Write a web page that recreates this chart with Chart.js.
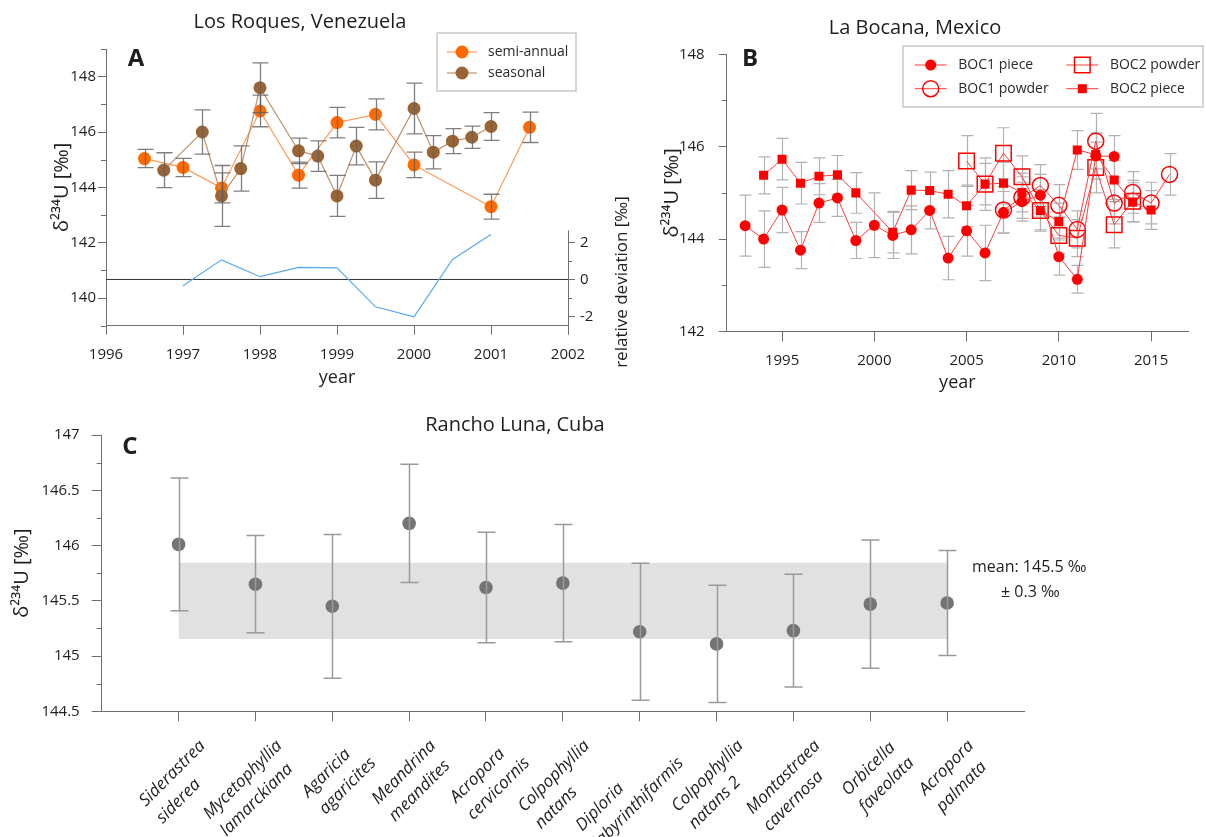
<!DOCTYPE html>
<html>
<head>
<meta charset="utf-8">
<title>Uranium isotope records</title>
<script src="https://cdn.jsdelivr.net/npm/chart.js@4.4.1/dist/chart.umd.min.js"></script>
<style>
  body { margin: 0; background: #fff; }
  .panel { position: absolute; }
</style>
</head>
<body>
<div class="panel" style="left:0;top:0"><canvas id="chartA" width="640" height="400"></canvas></div>
<div class="panel" style="left:620px;top:0"><canvas id="chartB" width="586" height="400"></canvas></div>
<div class="panel" style="left:0;top:400px"><canvas id="chartC" width="1206" height="437"></canvas></div>
<script>
// ---- Panel A: Los Roques ----
const semiYears = [1996.5, 1997, 1997.5, 1998, 1998.5, 1999, 1999.5, 2000, 2001, 2001.5];
const semiValues = [145.04, 144.72, 143.98, 146.76, 144.44, 146.34, 146.64, 144.81, 143.3, 146.17];
const semiErrors = [0.33, 0.33, 0.54, 0.57, 0.47, 0.55, 0.56, 0.46, 0.45, 0.55];

const seasYears = [1996.75, 1997.25, 1997.5, 1997.75, 1998, 1998.5, 1998.75, 1999, 1999.25, 1999.5, 2000, 2000.25, 2000.5, 2000.75, 2001];
const seasValues = [144.62, 146.0, 143.69, 144.68, 147.6, 145.32, 145.13, 143.69, 145.49, 144.26, 146.85, 145.27, 145.67, 145.81, 146.2];
const seasErrors = [0.63, 0.8, 1.1, 0.82, 0.9, 0.46, 0.55, 0.74, 0.68, 0.66, 0.92, 0.6, 0.45, 0.4, 0.5];

const devYears = [1997, 1997.5, 1998, 1998.5, 1999, 1999.5, 2000, 2000.5, 2001];
const devValues = [-0.34, 1.06, 0.15, 0.65, 0.63, -1.48, -2.02, 1.08, 2.43];

const aYearTicks = [1996, 1997, 1998, 1999, 2000, 2001, 2002];
const aLeftTicks = [140, 142, 144, 146, 148];
const aLeftMinor = [139, 141, 143, 145, 147, 149];
const aDevTicks = [-2, 0, 2];
const aDevMinor = [-1, 1];

// ---- Panel B: La Bocana ----
const bocYears = [1993, 1994, 1995, 1996, 1997, 1998, 1999, 2000, 2001, 2002, 2003, 2004,
                  2005, 2006, 2007, 2008, 2009, 2010, 2011, 2012, 2013, 2014, 2015, 2016];
const boc1Piece = [144.29, 144.0, 144.63, 143.76, 144.78, 144.89, 143.97, 144.3, 144.08, 144.2, 144.62, 143.59,
                   144.18, 143.7, 144.58, 144.81, 144.95, 143.62, 143.13, 145.8, 145.79, null, null, null];
const boc1PieceErr = [0.66, 0.61, 0.49, 0.4, 0.42, 0.4, 0.39, 0.7, 0.5, 0.52, 0.4, 0.47,
                      0.55, 0.6, 0.45, 0.42, 0.45, 0.4, 0.3, 0.5, 0.45, null, null, null];
const boc1Powder = [null, null, null, null, null, null, null, null, null, null, null, null,
                    null, null, 144.63, 144.9, 145.16, 144.73, 144.21, 146.12, 144.78, 145.01, 144.78, 145.4];
const boc1PowderErr = [null, null, null, null, null, null, null, null, null, null, null, null,
                       null, null, 0.5, 0.45, 0.45, 0.45, 0.4, 0.6, 0.45, 0.45, 0.45, 0.45];
const boc2Powder = [null, null, null, null, null, null, null, null, null, null, null, null,
                    145.69, 145.19, 145.86, 145.35, 144.62, 144.08, 144.02, 145.55, 144.31, 144.82, null, null];
const boc2PowderErr = [null, null, null, null, null, null, null, null, null, null, null, null,
                       0.55, 0.57, 0.55, 0.45, 0.45, 0.4, 0.4, 0.55, 0.5, 0.45, null, null];
const boc2Piece = [null, 145.38, 145.73, 145.21, 145.36, 145.39, 145.0, null, 144.15, 145.06, 145.05, 144.97,
                   144.72, 145.19, 145.21, 145.01, 144.62, 144.38, 145.93, 145.83, 145.28, 144.8, 144.63, null];
const boc2PieceErr = [null, 0.4, 0.45, 0.45, 0.4, 0.42, 0.44, null, 0.45, 0.42, 0.4, 0.51,
                      0.45, 0.45, 0.45, 0.42, 0.42, 0.4, 0.42, 0.45, 0.42, 0.42, 0.42, null];

const bYearTicks = [1995, 2000, 2005, 2010, 2015];
const bLeftTicks = [142, 144, 146, 148];
const bLeftMinor = [143, 145, 147];

// ---- Panel C: Rancho Luna ----
const species = ['Siderastrea\nsiderea', 'Mycetophyllia\nlamarckiana', 'Agaricia\nagaricites',
  'Meandrina\nmeandites', 'Acropora\ncervicornis', 'Colpophyllia\nnatans', 'Diploria\nlabyrinthifarmis',
  'Colpophyllia\nnatans 2', 'Montastraea\ncavernosa', 'Orbicella\nfaveolata', 'Acropora\npalmata'];
const speciesValues = [146.01, 145.65, 145.45, 146.2, 145.62, 145.66, 145.22, 145.11, 145.23, 145.47, 145.48];
const speciesErrors = [0.6, 0.44, 0.65, 0.535, 0.5, 0.53, 0.62, 0.53, 0.51, 0.58, 0.475];
const bandMean = 145.5;
const bandHalf = 0.345;
const cLeftTicks = [144.5, 145, 145.5, 146, 146.5, 147];
const cLeftMinor = [144.75, 145.25, 145.75, 146.25, 146.75];

const FONT = "'Open Sans', sans-serif";
const AXIS = '#6e6e6e';
const TEXT = '#1e1e1e';
Chart.defaults.font.family = FONT;
Chart.defaults.color = TEXT;
Chart.defaults.animation = false;
Chart.defaults.plugins.legend.display = false;
Chart.defaults.plugins.tooltip.enabled = false;

function points(xs, ys) {
  return xs.map((x, i) => ({ x: x, y: ys[i] })).filter(p => p.y !== null);
}
function keep(ys, es) {
  return es.filter((e, i) => ys[i] !== null);
}
function fixTicks(values) {
  return scale => { scale.ticks = values.map(v => ({ value: v })); };
}
function fixSize(prop, size) {
  return scale => {
    scale[prop] = size;
    scale.paddingTop = scale.paddingBottom = scale.paddingLeft = scale.paddingRight = 0;
  };
}
function marker(ctx, style, r, x, y) {
  ctx.beginPath();
  if (style === 'rect') {
    const s = r * Math.SQRT1_2;
    ctx.rect(x - s, y - s, 2 * s, 2 * s);
  } else {
    ctx.arc(x, y, r, 0, Math.PI * 2);
  }
  ctx.fill();
  ctx.stroke();
}

// error bars from dataset.errors, drawn through the y scale
function drawErrorBars(chart, opts, only) {
  const ctx = chart.ctx;
  chart.data.datasets.forEach((ds, di) => {
    if (!ds.errors || (only !== undefined && only !== di)) return;
    const meta = chart.getDatasetMeta(di);
    const ys = chart.scales[meta.yAxisID];
    ctx.save();
    ctx.strokeStyle = opts.color;
    ctx.lineWidth = opts.width;
    ctx.beginPath();
    meta.data.forEach((pt, i) => {
      const e = ds.errors[i];
      if (e == null) return;
      const v = ds.data[i].y;
      const y1 = ys.getPixelForValue(v + e), y2 = ys.getPixelForValue(v - e);
      const x = Math.round(pt.x) + 0.5;
      ctx.moveTo(x, y1); ctx.lineTo(x, y2);
      ctx.moveTo(x - opts.cap / 2, y1); ctx.lineTo(x + opts.cap / 2, y1);
      ctx.moveTo(x - opts.cap / 2, y2); ctx.lineTo(x + opts.cap / 2, y2);
    });
    ctx.stroke();
    ctx.restore();
  });
}
const errorBars = {
  id: 'errorBars',
  beforeDatasetsDraw(chart, args, opts) { if (opts.mode === 'before') drawErrorBars(chart, opts); },
  beforeDatasetDraw(chart, args, opts) { if (opts.mode === 'each') drawErrorBars(chart, opts, args.index); },
  afterDatasetsDraw(chart, args, opts) { if (opts.mode === 'after') drawErrorBars(chart, opts); }
};

const minorTicks = {
  id: 'minorTicks',
  afterDraw(chart, args, opts) {
    const ctx = chart.ctx;
    (opts.list || []).forEach(m => {
      const s = chart.scales[m.axis];
      ctx.save();
      ctx.strokeStyle = AXIS;
      ctx.lineWidth = 1;
      ctx.beginPath();
      m.values.forEach(v => {
        const y = Math.round(s.getPixelForValue(v)) + 0.5;
        const x0 = m.side === 'left' ? s.right : s.left;
        ctx.moveTo(x0, y);
        ctx.lineTo(m.side === 'left' ? x0 - m.len : x0 + m.len, y);
      });
      ctx.stroke();
      ctx.restore();
    });
  }
};

const partialAxis = {
  id: 'partialAxis',
  afterDraw(chart, args, opts) {
    if (!opts.axis) return;
    const s = chart.scales[opts.axis], ctx = chart.ctx;
    const x = Math.round(s.left) + 0.5;
    ctx.save();
    ctx.strokeStyle = AXIS;
    ctx.lineWidth = 1;
    ctx.beginPath();
    ctx.moveTo(x, s.getPixelForValue(opts.from));
    ctx.lineTo(x, s.getPixelForValue(opts.to));
    ctx.stroke();
    ctx.restore();
  }
};

const texts = {
  id: 'texts',
  afterDraw(chart, args, opts) {
    const ctx = chart.ctx;
    (opts.items || []).forEach(it => {
      ctx.save();
      ctx.font = it.font;
      ctx.fillStyle = TEXT;
      ctx.textAlign = it.align || 'center';
      ctx.textBaseline = 'middle';
      ctx.translate(it.x, it.y);
      if (it.rot) ctx.rotate(it.rot * Math.PI / 180);
      ctx.fillText(it.text, 0, 0);
      ctx.restore();
    });
  }
};

const boxLegend = {
  id: 'boxLegend',
  afterDraw(chart, args, opts) {
    if (!opts.box) return;
    const ctx = chart.ctx;
    const [bx, by, bw, bh] = opts.box;
    ctx.save();
    ctx.fillStyle = '#fff';
    ctx.fillRect(bx, by, bw, bh);
    ctx.strokeStyle = '#c9c9c9';
    ctx.lineWidth = 1.5;
    ctx.strokeRect(bx, by, bw, bh);
    opts.items.forEach(it => {
      const ds = chart.data.datasets[it.index];
      ctx.strokeStyle = ds.borderColor;
      ctx.lineWidth = ds.borderWidth;
      ctx.beginPath();
      ctx.moveTo(it.x - opts.line / 2, it.y);
      ctx.lineTo(it.x + opts.line / 2, it.y);
      ctx.stroke();
      ctx.fillStyle = ds.pointBackgroundColor;
      ctx.strokeStyle = ds.pointBorderColor;
      ctx.lineWidth = ds.pointBorderWidth || 0.01;
      marker(ctx, ds.pointStyle, ds.pointRadius, it.x, it.y);
      ctx.fillStyle = '#2a2a2a';
      ctx.font = opts.font;
      ctx.textAlign = 'left';
      ctx.textBaseline = 'middle';
      ctx.fillText(ds.label, it.x + opts.textDx, it.y);
    });
    ctx.restore();
  }
};

const speciesLabels = {
  id: 'speciesLabels',
  afterDraw(chart, args, opts) {
    if (!opts.font) return;
    const ctx = chart.ctx, xs = chart.scales.x, bottom = chart.chartArea.bottom;
    ctx.save();
    ctx.font = opts.font;
    ctx.fillStyle = TEXT;
    ctx.textBaseline = 'middle';
    ctx.textAlign = 'left';
    species.forEach((name, i) => {
      const lines = name.split('\n');
      const w = Math.max(...lines.map(l => ctx.measureText(l).width));
      const x = xs.getPixelForValue(i + 1);
      ctx.save();
      ctx.translate(x + opts.dx, bottom + opts.dy);
      ctx.rotate(-opts.angle * Math.PI / 180);
      lines.forEach((ln, k) => ctx.fillText(ln, -w, k * opts.lineHeight));
      ctx.restore();
    });
    ctx.restore();
  }
};

const plugins = [errorBars, minorTicks, partialAxis, texts, boxLegend, speciesLabels];

function axisBase(tickLen) {
  return {
    grid: { display: true, drawOnChartArea: false, drawTicks: true, tickLength: tickLen, color: AXIS, tickColor: AXIS },
    border: { display: true, color: AXIS, width: 1 }
  };
}
const yTitle = (pad) => ({
  display: true, text: 'δ²³⁴U [‰]', font: { size: 20 }, color: TEXT, padding: { top: pad, bottom: 0 }
});
const xTitle = (pad) => ({
  display: true, text: 'year', font: { size: 18 }, color: TEXT, padding: { top: 0, bottom: pad }
});

// ---------- Chart A ----------
new Chart(document.getElementById('chartA'), {
  type: 'line',
  data: {
    datasets: [
      {
        label: 'semi-annual', data: points(semiYears, semiValues), errors: semiErrors, yAxisID: 'y', order: 2,
        borderColor: '#ff9b5c', borderWidth: 1.2, pointStyle: 'circle', pointRadius: 6.5,
        pointBackgroundColor: '#ff6a00', pointBorderColor: '#ff6a00', pointBorderWidth: 0
      },
      {
        label: 'seasonal', data: points(seasYears, seasValues), errors: seasErrors, yAxisID: 'y', order: 1,
        borderColor: '#bb9168', borderWidth: 1.2, pointStyle: 'circle', pointRadius: 6.5,
        pointBackgroundColor: '#9a6434', pointBorderColor: '#9a6434', pointBorderWidth: 0
      },
      {
        label: 'relative deviation', data: points(devYears, devValues), yAxisID: 'yDev', order: 3,
        borderColor: '#5aa8f2', borderWidth: 1.2, pointRadius: 0
      },
      {
        label: 'zero', data: points([aYearTicks[0], aYearTicks[aYearTicks.length - 1]], [0, 0]), yAxisID: 'yDev', order: 4,
        borderColor: '#333', borderWidth: 1, pointRadius: 0
      }
    ]
  },
  options: {
    responsive: false,
    layout: { padding: { top: 49, bottom: 10.3, left: 0, right: 0 } },
    scales: {
      x: Object.assign(axisBase(9), {
        type: 'linear', min: 1996, max: 2002, afterBuildTicks: fixTicks(aYearTicks), afterFit: fixSize('height', 64),
        ticks: { autoSkip: false, maxRotation: 0, padding: 11, font: { size: 15 }, callback: v => String(v) },
        title: xTitle(0.9)
      }),
      y: Object.assign(axisBase(8), {
        position: 'left', min: 139, max: 149, afterBuildTicks: fixTicks(aLeftTicks), afterFit: fixSize('width', 106),
        ticks: { autoSkip: false, padding: 2, font: { size: 15 }, callback: v => String(v) },
        title: yTitle(50)
      }),
      yDev: Object.assign(axisBase(7), {
        position: 'right', min: -2.5, max: 12.46, afterBuildTicks: fixTicks(aDevTicks), afterFit: fixSize('width', 72),
        border: { display: false },
        ticks: { autoSkip: false, padding: 5, font: { size: 15 }, callback: v => String(v) }
      })
    },
    plugins: {
      errorBars: { mode: 'after', color: 'rgba(95,95,95,0.8)', width: 1.3, cap: 16 },
      minorTicks: { list: [
        { axis: 'y', side: 'left', len: 5, values: aLeftMinor },
        { axis: 'yDev', side: 'right', len: 4, values: aDevMinor }
      ] },
      partialAxis: { axis: 'yDev', from: -2.5, to: 2.65 },
      texts: { items: [
        { text: 'Los Roques, Venezuela', x: 300, y: 22, font: '20px ' + FONT },
        { text: 'A', x: 136, y: 59, font: 'bold 24px ' + FONT },
        { text: 'relative deviation [‰]', x: 622, y: 282, rot: -90, font: '17px ' + FONT }
      ] },
      boxLegend: {
        box: [437, 33, 139, 58], line: 30, textDx: 26, font: '14px ' + FONT,
        items: [{ index: 0, x: 462, y: 52 }, { index: 1, x: 462, y: 73 }]
      }
    }
  },
  plugins: plugins
});

// ---------- Chart B ----------
const redLine = '#ff3b3b';
const red = '#ff0000';
new Chart(document.getElementById('chartB'), {
  type: 'line',
  data: {
    datasets: [
      {
        label: 'BOC1 piece', data: points(bocYears, boc1Piece), errors: keep(boc1Piece, boc1PieceErr), order: 1,
        borderColor: redLine, borderWidth: 1, pointStyle: 'circle', pointRadius: 5.5,
        pointBackgroundColor: red, pointBorderColor: red, pointBorderWidth: 0
      },
      {
        label: 'BOC2 powder', data: points(bocYears, boc2Powder), errors: keep(boc2Powder, boc2PowderErr), order: 4,
        borderColor: redLine, borderWidth: 1, pointStyle: 'rect', pointRadius: 11,
        pointBackgroundColor: 'rgba(0,0,0,0)', pointBorderColor: red, pointBorderWidth: 1.5
      },
      {
        label: 'BOC1 powder', data: points(bocYears, boc1Powder), errors: keep(boc1Powder, boc1PowderErr), order: 3,
        borderColor: redLine, borderWidth: 1, pointStyle: 'circle', pointRadius: 8,
        pointBackgroundColor: 'rgba(0,0,0,0)', pointBorderColor: red, pointBorderWidth: 1.5
      },
      {
        label: 'BOC2 piece', data: points(bocYears, boc2Piece), errors: keep(boc2Piece, boc2PieceErr), order: 2,
        borderColor: redLine, borderWidth: 1, pointStyle: 'rect', pointRadius: 6.4,
        pointBackgroundColor: red, pointBorderColor: red, pointBorderWidth: 0
      }
    ]
  },
  options: {
    responsive: false,
    layout: { padding: { top: 54.3, bottom: 4.5, left: 0, right: 18 } },
    scales: {
      x: Object.assign(axisBase(10), {
        type: 'linear', min: 1992, max: 2017, afterBuildTicks: fixTicks(bYearTicks), afterFit: fixSize('height', 64),
        ticks: { autoSkip: false, maxRotation: 0, padding: 10.5, font: { size: 15 }, callback: v => String(v) },
        title: xTitle(1.7)
      }),
      y: Object.assign(axisBase(8), {
        position: 'left', min: 142, max: 148, afterBuildTicks: fixTicks(bLeftTicks), afterFit: fixSize('width', 106.7),
        ticks: { autoSkip: false, padding: 14, font: { size: 15 }, callback: v => String(v) },
        title: yTitle(40)
      })
    },
    plugins: {
      errorBars: { mode: 'before', color: '#b2b2b2', width: 1.2, cap: 12 },
      minorTicks: { list: [{ axis: 'y', side: 'left', len: 5, values: bLeftMinor }] },
      texts: { items: [
        { text: 'La Bocana, Mexico', x: 295, y: 28, font: '20px ' + FONT },
        { text: 'B', x: 130, y: 59, font: 'bold 24px ' + FONT }
      ] },
      boxLegend: {
        box: [283, 46, 300, 61], line: 32, textDx: 27.6, font: '14px ' + FONT,
        items: [
          { index: 0, x: 310.7, y: 65 }, { index: 2, x: 310.7, y: 88.7 },
          { index: 1, x: 462.3, y: 65 }, { index: 3, x: 462.3, y: 88.7 }
        ]
      }
    }
  },
  plugins: plugins
});

// ---------- Chart C ----------
const catX = species.map((s, i) => i + 1);
new Chart(document.getElementById('chartC'), {
  type: 'line',
  data: {
    datasets: [
      {
        label: 'coral', data: points(catX, speciesValues), errors: speciesErrors, order: 1, showLine: false,
        pointStyle: 'circle', pointRadius: 6.8, pointBackgroundColor: '#747474', pointBorderWidth: 0
      },
      {
        label: 'band top', data: points([1, catX.length], [bandMean + bandHalf, bandMean + bandHalf]), order: 3,
        borderWidth: 0, pointRadius: 0, fill: '+1', backgroundColor: '#e1e1e1'
      },
      {
        label: 'band bottom', data: points([1, catX.length], [bandMean - bandHalf, bandMean - bandHalf]), order: 4,
        borderWidth: 0, pointRadius: 0, fill: false
      }
    ]
  },
  options: {
    responsive: false,
    layout: { padding: { top: 35, bottom: 25.7, left: 0, right: 182 } },
    scales: {
      x: Object.assign(axisBase(10), {
        type: 'linear', min: 0, max: catX.length + 1, afterBuildTicks: fixTicks(catX), afterFit: fixSize('height', 100),
        ticks: { autoSkip: false, maxRotation: 0, callback: () => '' }
      }),
      y: Object.assign(axisBase(10), {
        position: 'left', min: 144.5, max: 147, afterBuildTicks: fixTicks(cLeftTicks), afterFit: fixSize('width', 101.7),
        ticks: { autoSkip: false, padding: 12, font: { size: 15 }, callback: v => String(v) },
        title: yTitle(10)
      })
    },
    plugins: {
      filler: { propagate: false },
      errorBars: { mode: 'after', color: '#9a9a9a', width: 1.5, cap: 18 },
      minorTicks: { list: [{ axis: 'y', side: 'left', len: 5, values: cLeftMinor }] },
      texts: { items: [
        { text: 'Rancho Luna, Cuba', x: 515, y: 25, font: '20px ' + FONT },
        { text: 'C', x: 130, y: 47, font: 'bold 24px ' + FONT },
        { text: 'mean: 145.5 ‰', x: 972, y: 167, align: 'left', font: '16px ' + FONT },
        { text: '± 0.3 ‰', x: 1001, y: 192, align: 'left', font: '16px ' + FONT }
      ] },
      speciesLabels: { font: 'italic 17px ' + FONT, dx: 24, dy: 32, angle: 45, lineHeight: 24 }
    }
  },
  plugins: plugins
});
</script>
</body>
</html>
